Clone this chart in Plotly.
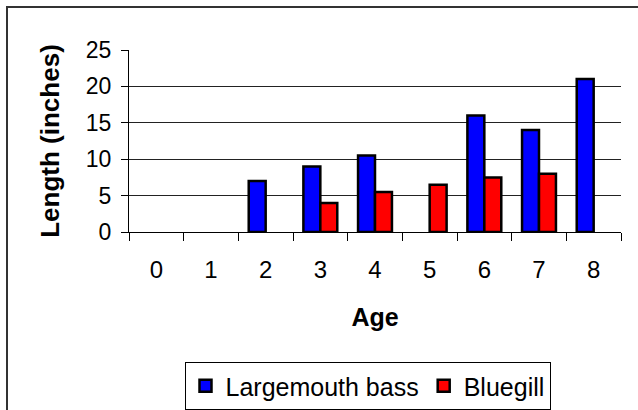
import plotly.graph_objects as go

ages = ["0", "1", "2", "3", "4", "5", "6", "7", "8"]
bass = [None, None, 7, 9, 10.5, None, 16, 14, 21]
bluegill = [None, None, None, 4, 5.5, 6.5, 7.5, 8, None]
y_ticks = [0, 5, 10, 15, 20, 25]

FONT = "Liberation Sans, Arial, sans-serif"

fig = go.Figure()
fig.add_trace(go.Bar(x=ages, y=bass, name="Largemouth bass",
                     marker=dict(color="#0000FF", line=dict(color="#000000", width=2.5))))
fig.add_trace(go.Bar(x=ages, y=bluegill, name="Bluegill",
                     marker=dict(color="#FF0000", line=dict(color="#000000", width=2.5))))

L, R, T, B = 129, 17, 50, 178
W, H = 638, 410
pw, ph = W - L - R, H - T - B

def px_x(x):
    return (x - L) / pw

def px_y(y):
    return (H - B - y) / ph

fig.update_layout(
    width=W, height=H,
    margin=dict(l=L, r=R, t=T, b=B, pad=0, autoexpand=False),
    paper_bgcolor="white", plot_bgcolor="white",
    barmode="group", bargap=0.38, bargroupgap=0,
    font=dict(family=FONT, size=22, color="black"),
    showlegend=True,
    legend=dict(orientation="h", xref="container", yref="container",
                x=367.5 / W, xanchor="center", y=1 - 362 / H, yanchor="top",
                bordercolor="black", borderwidth=1, bgcolor="white",
                font=dict(size=25, family=FONT),
                itemwidth=30, tracegroupgap=0),
    xaxis=dict(type="category", range=[-0.5, 8.5], showline=True, linecolor="black", linewidth=1,
               ticks="outside", tickson="boundaries", ticklen=8, tickcolor="black",
               showgrid=False, tickfont=dict(size=24, family=FONT), ticklabelstandoff=16,
               automargin=False,
               title=dict(text="<b>Age</b>", font=dict(size=25, family=FONT), standoff=26)),
    yaxis=dict(range=[0, 25], tickvals=y_ticks, showline=True, linecolor="black", linewidth=1,
               ticks="outside", ticklen=7, tickcolor="black",
               showgrid=True, gridcolor="#222222", gridwidth=1, zeroline=False,
               tickfont=dict(size=23, family=FONT), ticklabelstandoff=5,
               automargin=False,
               title=dict(text="<b>Length (inches)</b>", font=dict(size=26, family=FONT), standoff=18)),
    shapes=[dict(type="rect", xref="paper", yref="paper",
                 x0=px_x(7), x1=px_x(645), y0=px_y(420), y1=px_y(7),
                 line=dict(color="#333333", width=2), layer="below")],
)

fig.write_html("out.html", config={"displayModeBar": False},
               post_script="document.body.style.margin='0';document.body.style.overflow='hidden';")
